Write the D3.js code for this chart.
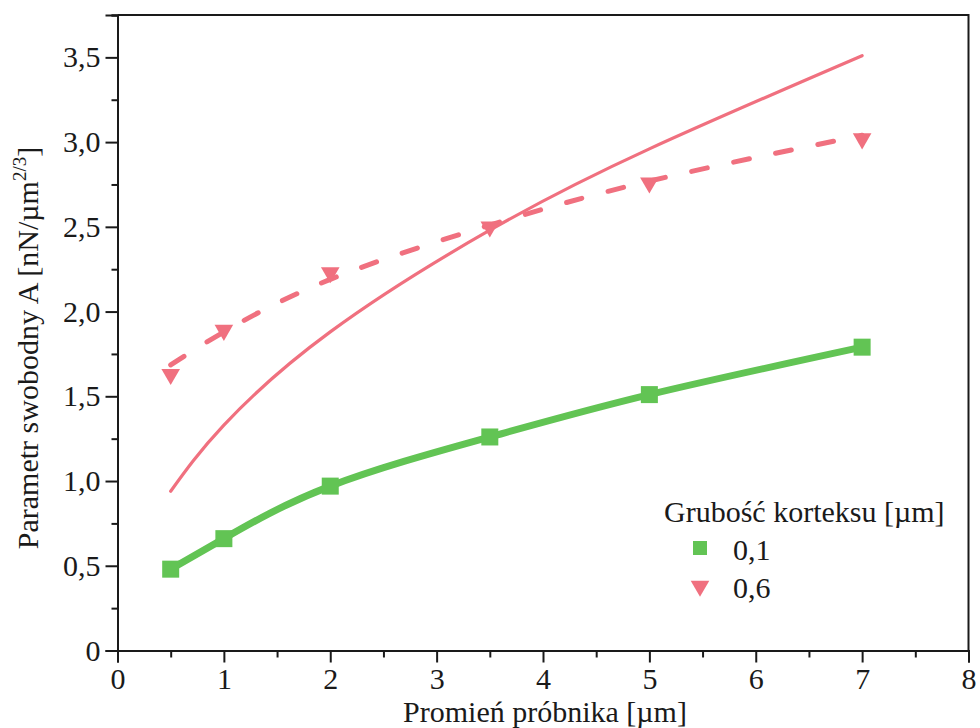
<!DOCTYPE html>
<html>
<head>
<meta charset="utf-8">
<script src="https://cdn.jsdelivr.net/npm/d3@7"></script>
<style>
  body { margin: 0; background: #fff; }
  text { font-family: "Liberation Serif", "Times New Roman", serif; fill: #1a1a1a; }
</style>
</head>
<body>
<svg id="chart" width="980" height="728"></svg>
<script>
// Probe radius [µm]
const radius = [0.5, 1, 2, 3.5, 5, 7];
// Free parameter A for cortex thickness 0,1 µm (measured points)
const thinValues = [0.48, 0.66, 0.97, 1.26, 1.51, 1.79];
// Free parameter A for cortex thickness 0,6 µm (measured points)
const thickValues = [1.63, 1.89, 2.23, 2.50, 2.76, 3.02];
// Fitted trend for the 0,6 µm series (dashed)
const thickFit = [1.685, 1.88, 2.19, 2.51, 2.77, 3.04];
// Model curve for the 0,6 µm cortex (solid, no markers)
const thickModel = [0.94, 1.33, 1.88, 2.48, 2.96, 3.51];

const xTicks = [0, 1, 2, 3, 4, 5, 6, 7, 8];
const xMinorTicks = [0.5, 1.5, 2.5, 3.5, 4.5, 5.5, 6.5, 7.5];
const yTicks = [0, 0.5, 1, 1.5, 2, 2.5, 3, 3.5];
const yMinorTicks = [0.25, 0.75, 1.25, 1.75, 2.25, 2.75, 3.25, 3.75];
const seriesLabels = ["0,1", "0,6"];
const legendTitle = "Grubość korteksu [µm]";

const green = "#62C454";
const pink = "#F0707F";
const fontSize = 30;

const svg = d3.select("#chart");
const plot = { left: 117.5, right: 968.5, top: 15, bottom: 650.5 };

const x = d3.scaleLinear().domain([0, 8]).range([plot.left, plot.right]);
const y = d3.scaleLinear().domain([0, 3.75]).range([plot.bottom, plot.top]);

const fmt = v => (v === 0 ? "0" : d3.format(".1f")(v).replace(".", ","));

// frame (top and right edges)
svg.append("path")
  .attr("d", `M${plot.left},${plot.top}H${plot.right}V${plot.bottom}`)
  .attr("fill", "none").attr("stroke", "#1a1a1a").attr("stroke-width", 2);

// axes: major ticks with labels, minor ticks without
const styleAxis = g => {
  g.attr("font-family", null);
  g.select(".domain").attr("stroke", "#1a1a1a").attr("stroke-width", 2);
  g.selectAll(".tick line").attr("stroke", "#1a1a1a").attr("stroke-width", 2);
  g.selectAll(".tick text").attr("font-size", fontSize).attr("fill", "#1a1a1a");
};

svg.append("g").attr("transform", `translate(0,${plot.bottom})`)
  .call(d3.axisBottom(x).tickValues(xMinorTicks).tickSize(7).tickFormat(""))
  .call(styleAxis);
svg.append("g").attr("transform", `translate(0,${plot.bottom})`)
  .call(d3.axisBottom(x).tickValues(xTicks).tickSize(12).tickPadding(5).tickFormat(d3.format("d")))
  .call(styleAxis);

svg.append("g").attr("transform", `translate(${plot.left},0)`)
  .call(d3.axisLeft(y).tickValues(yMinorTicks).tickSize(6).tickFormat(""))
  .call(styleAxis);
svg.append("g").attr("transform", `translate(${plot.left},0)`)
  .call(d3.axisLeft(y).tickValues(yTicks).tickSize(12).tickPadding(5).tickFormat(fmt))
  .call(styleAxis);

// axis titles
svg.append("text")
  .attr("x", (plot.left + plot.right) / 2 + 2).attr("y", 722)
  .attr("text-anchor", "middle").attr("font-size", fontSize)
  .text("Promień próbnika [µm]");

const yTitle = svg.append("text")
  .attr("transform", "translate(38,348) rotate(-90)")
  .attr("text-anchor", "middle").attr("font-size", fontSize);
yTitle.append("tspan").text("Parametr swobodny A [nN/µm");
yTitle.append("tspan").attr("dy", -12).attr("font-size", 19).text("2/3");
yTitle.append("tspan").attr("dy", 12).text("]");

// curves
const pts = vals => radius.map((r, i) => [r, vals[i]]);
const curve = d3.line().x(d => x(d[0])).y(d => y(d[1])).curve(d3.curveNatural);

svg.append("path").attr("d", curve(pts(thickModel)))
  .attr("fill", "none").attr("stroke", pink).attr("stroke-width", 3.2)
  .attr("stroke-linecap", "round");

svg.append("path").attr("d", curve(pts(thickFit)))
  .attr("fill", "none").attr("stroke", pink).attr("stroke-width", 5)
  .attr("stroke-dasharray", "16,27").attr("stroke-linecap", "round");

svg.append("path").attr("d", curve(pts(thinValues)))
  .attr("fill", "none").attr("stroke", green).attr("stroke-width", 7)
  .attr("stroke-linejoin", "round");

// markers
const tri = d3.symbol().type(d3.symbolTriangle).size(150);
svg.append("g").selectAll("path").data(pts(thickValues)).join("path")
  .attr("d", tri)
  .attr("transform", d => `translate(${x(d[0])},${y(d[1])}) rotate(180)`)
  .attr("fill", pink);

svg.append("g").selectAll("rect").data(pts(thinValues)).join("rect")
  .attr("x", d => x(d[0]) - 8.5).attr("y", d => y(d[1]) - 8.5)
  .attr("width", 17).attr("height", 17).attr("fill", green);

// legend
const legend = svg.append("g");
legend.append("text").attr("x", 664).attr("y", 522).attr("font-size", fontSize).text(legendTitle);
legend.append("rect").attr("x", 693).attr("y", 541).attr("width", 14).attr("height", 14).attr("fill", green);
legend.append("path").attr("d", tri).attr("transform", "translate(700,586) rotate(180)").attr("fill", pink);
legend.selectAll("text.item").data(seriesLabels).join("text")
  .attr("class", "item")
  .attr("x", 733).attr("y", (d, i) => 560 + i * 38)
  .attr("font-size", fontSize).text(d => d);
</script>
</body>
</html>
